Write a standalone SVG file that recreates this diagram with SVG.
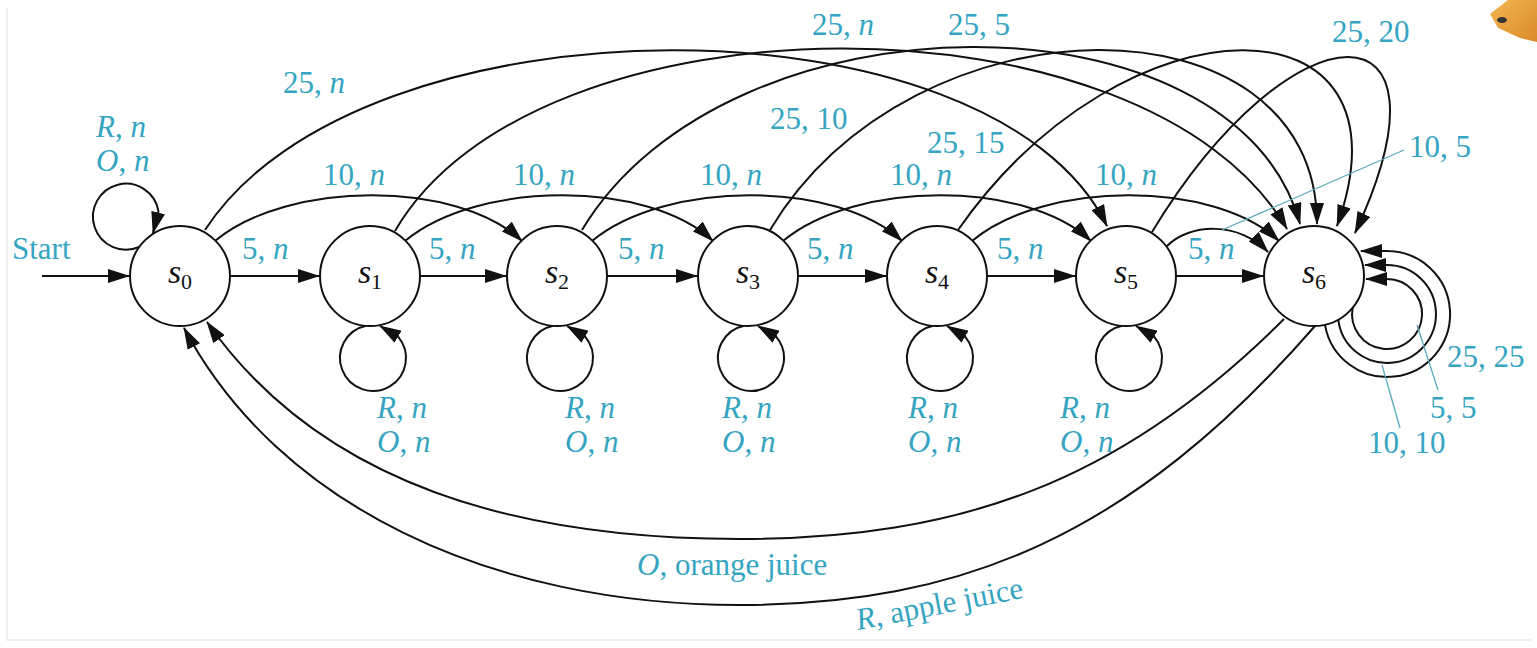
<svg xmlns="http://www.w3.org/2000/svg" width="1537" height="648" viewBox="0 0 1537 648">
<style>
.lbl{font-family:"Liberation Serif","Times New Roman",serif;font-size:31px;fill:#35a5c2}
.i{font-style:italic}
.edge{fill:none;stroke:#111;stroke-width:2;marker-end:url(#arr)}
.lead{fill:none;stroke:#5aaabb;stroke-width:1.3}
.node circle{fill:#fff;stroke:#111;stroke-width:2}
.nl{font-family:"Liberation Serif","Times New Roman",serif;font-size:34px;font-style:italic;fill:#111}
.sub{font-size:22px;font-style:normal}
</style>
<defs>
<marker id="arr" markerUnits="userSpaceOnUse" markerWidth="22" markerHeight="14" viewBox="0 0 22 14" refX="21" refY="7" orient="auto">
<path d="M0,0 L22,7 L0,14 z" fill="#111"/>
</marker>
<linearGradient id="og" x1="0" y1="0" x2="1" y2="1">
<stop offset="0" stop-color="#f2b650"/>
<stop offset="1" stop-color="#d98a2a"/>
</linearGradient>
</defs>
<rect x="0" y="0" width="1537" height="648" fill="#fff"/>
<path d="M7,8 V640 H1532" fill="none" stroke="#f0f0f0" stroke-width="2"/>
<g id="icon">
<path d="M1490,14 L1508,0 L1537,0 L1537,42 L1520,38 L1498,28 Z" fill="url(#og)"/>
<ellipse cx="1502" cy="20" rx="5" ry="3" fill="#333"/>
</g>
<g id="connectors">
<path class="edge" d="M42,276 L129,276"/>
<path class="edge" d="M230,276 L319,276"/>
<path class="edge" d="M420,276 L506,276"/>
<path class="edge" d="M607,276 L697,276"/>
<path class="edge" d="M798,276 L886,276"/>
<path class="edge" d="M987,276 L1075,276"/>
<path class="edge" d="M1176,276 L1263,276"/>
<path class="edge" d="M215,241 C288,180 458,180 522,241"/>
<path class="edge" d="M405,241 C478,180 649,180 713,241"/>
<path class="edge" d="M592,241 C665,180 838,180 902,241"/>
<path class="edge" d="M783,241 C856,180 1027,180 1091,241"/>
<path class="edge" d="M972,241 C1045,180 1215,180 1279,241"/>
<path class="edge" d="M205,230 C360,-9 992,-9 1107,226"/>
<path class="edge" d="M395,231 C535,-11 1146,-13 1287,229"/>
<path class="edge" d="M582,230 C728,-13 1236,-13 1300,224"/>
<path class="edge" d="M770,230 C914,-9 1317,-9 1317,224"/>
<path class="edge" d="M958,230 C1125,-9 1422,-9 1337,226"/>
<path class="edge" d="M1152,232 C1293,0 1465,-3 1355,233"/>
<path class="edge" d="M1166,247 C1190,222 1240,222 1268,252"/>
<path class="edge" d="M139,247 A33,33 0 1 1 158.5,211.3 L153,233"/>
<path class="edge" d="M366.1,325.7 A33,33 0 1 0 398.3,336.8 L380,326"/>
<path class="edge" d="M553.1,325.7 A33,33 0 1 0 585.3,336.8 L567,326"/>
<path class="edge" d="M744.1,325.7 A33,33 0 1 0 776.3,336.8 L758,326"/>
<path class="edge" d="M933.1,325.7 A33,33 0 1 0 965.3,336.8 L947,326"/>
<path class="edge" d="M1122.1,325.7 A33,33 0 1 0 1154.3,336.8 L1136,326"/>
<path class="edge" d="M1352.6,307.8 A35,35 0 1 0 1387,279 L1366,279"/>
<path class="edge" d="M1338.3,319.7 A49,49 0 1 0 1387,265 L1365,265"/>
<path class="edge" d="M1325,324.8 A63,63 0 1 0 1387,251 L1361,251"/>
<path class="edge" d="M1284,319 C1121,482 960,539 740,539 C520,539 322,486 207,322"/>
<path class="edge" d="M1315,326 C1131,537 960,605 740,605 C490,605 278,505 184,328"/>
<path class="lead" d="M1404,150 L1222,230"/>
<path class="lead" d="M1417,325 L1438,390"/>
<path class="lead" d="M1382,365 L1400,428"/>
</g>
<g id="s0" class="node"><circle cx="180" cy="276" r="50"/><text class="nl" x="180" y="283" text-anchor="middle">s<tspan class="sub" dy="6">0</tspan></text></g>
<g id="s1" class="node"><circle cx="370" cy="276" r="50"/><text class="nl" x="370" y="283" text-anchor="middle">s<tspan class="sub" dy="6">1</tspan></text></g>
<g id="s2" class="node"><circle cx="557" cy="276" r="50"/><text class="nl" x="557" y="283" text-anchor="middle">s<tspan class="sub" dy="6">2</tspan></text></g>
<g id="s3" class="node"><circle cx="748" cy="276" r="50"/><text class="nl" x="748" y="283" text-anchor="middle">s<tspan class="sub" dy="6">3</tspan></text></g>
<g id="s4" class="node"><circle cx="937" cy="276" r="50"/><text class="nl" x="937" y="283" text-anchor="middle">s<tspan class="sub" dy="6">4</tspan></text></g>
<g id="s5" class="node"><circle cx="1126" cy="276" r="50"/><text class="nl" x="1126" y="283" text-anchor="middle">s<tspan class="sub" dy="6">5</tspan></text></g>
<g id="s6" class="node"><circle cx="1314" cy="276" r="50"/><text class="nl" x="1314" y="283" text-anchor="middle">s<tspan class="sub" dy="6">6</tspan></text></g>
<g id="labels">
<text class="lbl" x="12" y="259">Start</text>
<text class="lbl" x="96" y="137"><tspan class="i">R</tspan>, <tspan class="i">n</tspan></text>
<text class="lbl" x="96" y="171"><tspan class="i">O</tspan>, <tspan class="i">n</tspan></text>
<text class="lbl" x="242" y="259">5, <tspan class="i">n</tspan></text>
<text class="lbl" x="429" y="259">5, <tspan class="i">n</tspan></text>
<text class="lbl" x="618" y="259">5, <tspan class="i">n</tspan></text>
<text class="lbl" x="807" y="259">5, <tspan class="i">n</tspan></text>
<text class="lbl" x="997" y="259">5, <tspan class="i">n</tspan></text>
<text class="lbl" x="1188" y="259">5, <tspan class="i">n</tspan></text>
<text class="lbl" x="323" y="185">10, <tspan class="i">n</tspan></text>
<text class="lbl" x="513" y="185">10, <tspan class="i">n</tspan></text>
<text class="lbl" x="700" y="185">10, <tspan class="i">n</tspan></text>
<text class="lbl" x="890" y="185">10, <tspan class="i">n</tspan></text>
<text class="lbl" x="1095" y="185">10, <tspan class="i">n</tspan></text>
<text class="lbl" x="283" y="93">25, <tspan class="i">n</tspan></text>
<text class="lbl" x="812" y="35">25, <tspan class="i">n</tspan></text>
<text class="lbl" x="948" y="35">25, 5</text>
<text class="lbl" x="770" y="129">25, 10</text>
<text class="lbl" x="927" y="153">25, 15</text>
<text class="lbl" x="1332" y="42">25, 20</text>
<text class="lbl" x="1409" y="157">10, 5</text>
<text class="lbl" x="1447" y="367">25, 25</text>
<text class="lbl" x="1430" y="418">5, 5</text>
<text class="lbl" x="1368" y="453">10, 10</text>
<text class="lbl" x="377" y="418"><tspan class="i">R</tspan>, <tspan class="i">n</tspan></text>
<text class="lbl" x="377" y="452"><tspan class="i">O</tspan>, <tspan class="i">n</tspan></text>
<text class="lbl" x="565" y="418"><tspan class="i">R</tspan>, <tspan class="i">n</tspan></text>
<text class="lbl" x="565" y="452"><tspan class="i">O</tspan>, <tspan class="i">n</tspan></text>
<text class="lbl" x="722" y="418"><tspan class="i">R</tspan>, <tspan class="i">n</tspan></text>
<text class="lbl" x="722" y="452"><tspan class="i">O</tspan>, <tspan class="i">n</tspan></text>
<text class="lbl" x="908" y="418"><tspan class="i">R</tspan>, <tspan class="i">n</tspan></text>
<text class="lbl" x="908" y="452"><tspan class="i">O</tspan>, <tspan class="i">n</tspan></text>
<text class="lbl" x="1060" y="418"><tspan class="i">R</tspan>, <tspan class="i">n</tspan></text>
<text class="lbl" x="1060" y="452"><tspan class="i">O</tspan>, <tspan class="i">n</tspan></text>
<text class="lbl" x="637" y="575"><tspan class="i">O</tspan>, orange juice</text>
<text class="lbl" x="858" y="630" transform="rotate(-11 858 630)"><tspan class="i">R</tspan>, apple juice</text>
</g>
</svg>
